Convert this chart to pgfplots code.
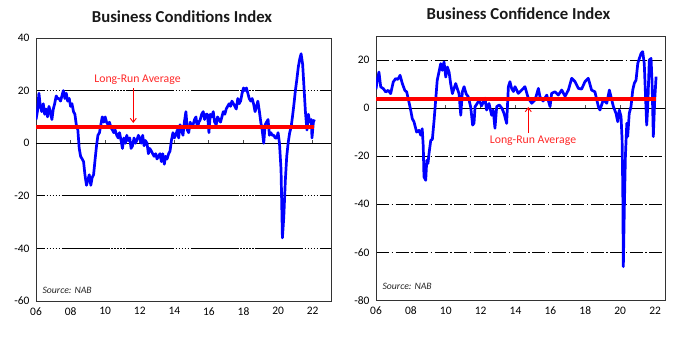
\documentclass[border=0pt]{standalone}
\usepackage{fontspec}
\setmainfont{Carlito}
\usepackage{pgfplots}
\pgfplotsset{compat=1.18}
\usetikzlibrary{arrows.meta}
\definecolor{lineblue}{RGB}{0,0,255}
\definecolor{avgred}{RGB}{255,0,0}
\definecolor{txtred}{RGB}{255,40,40}
\begin{document}
\begin{tikzpicture}
\path[use as bounding box] (0bp,0bp) rectangle (684bp,338bp);
\pgfplotsset{
  mystyle/.style={
    scale only axis, anchor=south west,
    axis line style={black!80, line width=0.9bp},
    tick label style={font=\fontsize{11.5}{13}\selectfont, text=black},
    /pgf/number format/assume math mode=true,
    major tick length=0pt,
    xtick={2006,2008,...,2022},
    xticklabels={06,08,10,12,14,16,18,20,22},
    xticklabel style={yshift=-3bp},
    yticklabel style={xshift=-3bp},
    ymajorgrids,
  }
}
% ---------------- Business Conditions ----------------
\begin{axis}[mystyle, at={(36bp,37bp)}, width=295bp, height=263bp,
  xmin=2006, xmax=2023.06, ymin=-60, ymax=40, ytick={-60,-40,...,40},
  grid style={black, line width=0.6bp, dash pattern=on 48bp off 1.5bp on 1.5bp off 1.5bp on 1.5bp off 1.5bp on 1.5bp off 1.5bp on 1.5bp off 1.5bp on 1.5bp off 1.5bp, dash phase=39bp}]
\draw[black, line width=0.7bp] (axis cs:2006,0) -- (axis cs:2023.06,0);
\pgfplotsinvokeforeach{2008,2010,...,2022}{\draw[black!70, line width=0.9bp] (axis cs:#1,0) -- ++(0pt,3.5pt);}
\addplot[lineblue, line width=2.7bp, line join=round] coordinates {
(2006.00,9) (2006.08,12) (2006.17,19) (2006.25,14) (2006.33,12) (2006.42,15) (2006.50,11) (2006.58,13) (2006.67,10) (2006.75,14) (2006.83,12) (2006.92,9)
(2007.00,13) (2007.08,15) (2007.17,18) (2007.25,17) (2007.33,17) (2007.42,16) (2007.50,18) (2007.58,20) (2007.67,17) (2007.75,19) (2007.83,16) (2007.92,17)
(2008.00,14) (2008.08,15) (2008.17,12) (2008.25,11) (2008.33,7) (2008.42,5) (2008.50,-2) (2008.58,-5) (2008.67,-6) (2008.75,-7) (2008.83,-12) (2008.92,-16)
(2009.00,-14) (2009.08,-12) (2009.17,-16) (2009.25,-13) (2009.33,-12) (2009.42,-6) (2009.50,-1) (2009.58,3) (2009.67,4) (2009.75,7) (2009.83,10) (2009.92,8)
(2010.00,10) (2010.08,8) (2010.17,7) (2010.25,8) (2010.33,6) (2010.42,5) (2010.50,4) (2010.58,5) (2010.67,3) (2010.75,2) (2010.83,4) (2010.92,1)
(2011.00,-2) (2011.08,2) (2011.17,0) (2011.25,3) (2011.33,1) (2011.42,2) (2011.50,-2) (2011.58,-1) (2011.67,2) (2011.75,0) (2011.83,1) (2011.92,3)
(2012.00,2) (2012.08,0) (2012.17,3) (2012.25,-1) (2012.33,1) (2012.42,0) (2012.50,-4) (2012.58,-2) (2012.67,-3) (2012.75,-4) (2012.83,-5) (2012.92,-4)
(2013.00,-6) (2013.08,-5) (2013.17,-4) (2013.25,-7) (2013.33,-4) (2013.42,-8) (2013.50,-5) (2013.58,-6) (2013.67,-4) (2013.75,-3) (2013.83,1) (2013.92,4)
(2014.00,2) (2014.08,3) (2014.17,5) (2014.25,2) (2014.33,7) (2014.42,5) (2014.50,3) (2014.58,8) (2014.67,12) (2014.75,5) (2014.83,4) (2014.92,8)
(2015.00,6) (2015.08,7) (2015.17,9) (2015.25,10) (2015.33,6) (2015.42,8) (2015.50,9) (2015.58,11) (2015.67,12) (2015.75,9) (2015.83,11) (2015.92,11)
(2016.00,4) (2016.08,11) (2016.17,10) (2016.25,12) (2016.33,8) (2016.42,7) (2016.50,10) (2016.58,9) (2016.67,8) (2016.75,10) (2016.83,12) (2016.92,11)
(2017.00,13) (2017.08,14) (2017.17,15) (2017.25,14) (2017.33,16) (2017.42,15) (2017.50,14) (2017.58,13) (2017.67,17) (2017.75,15) (2017.83,16) (2017.92,19)
(2018.00,21) (2018.08,20) (2018.17,21) (2018.25,19) (2018.33,17) (2018.42,16) (2018.50,17) (2018.58,15) (2018.67,12) (2018.75,14) (2018.83,16) (2018.92,12)
(2019.00,8) (2019.08,5) (2019.17,0) (2019.25,7) (2019.33,8) (2019.42,9) (2019.50,3) (2019.58,4) (2019.67,3) (2019.75,3) (2019.83,2) (2019.92,2)
(2020.00,4) (2020.08,0) (2020.17,-10) (2020.25,-36) (2020.33,-28) (2020.42,-14) (2020.50,-5) (2020.58,0) (2020.67,4) (2020.75,6) (2020.83,10) (2020.92,15)
(2021.00,20) (2021.08,24) (2021.17,29) (2021.25,32) (2021.33,34) (2021.42,30) (2021.50,21) (2021.58,12) (2021.67,5) (2021.75,11) (2021.83,8) (2021.92,9)
(2021.96,2) (2022.04,8) (2022.10,9)
};
\addplot[avgred, line width=4.2bp] coordinates {(2006,6.3) (2022.1,6.3)};
\end{axis}
% ---------------- Business Confidence ----------------
\begin{axis}[mystyle, at={(376bp,37.7bp)}, width=289bp, height=264bp,
  xmin=2006, xmax=2022.57, ymin=-80, ymax=30, ytick={-80,-60,-40,-20,20},
  extra y ticks={0}, extra y tick style={grid=none},
  grid style={black, line width=0.6bp, dash pattern=on 13bp off 2.5bp on 1.5bp off 2.5bp}]
\draw[black, line width=0.7bp] (axis cs:2006,0) -- (axis cs:2022.57,0);
\pgfplotsinvokeforeach{2008,2010,...,2022}{\draw[black!70, line width=0.9bp] (axis cs:#1,0) -- ++(0pt,3.5pt);}
\addplot[lineblue, line width=2.7bp, line join=round] coordinates {
(2006.00,8) (2006.07,11.7) (2006.17,15.1) (2006.27,8.9) (2006.42,8.2) (2006.56,6.8) (2006.70,7.5) (2006.84,6.1) (2006.99,11) (2007.13,12.4) (2007.25,12) (2007.38,13.75)
(2007.51,10.3) (2007.65,7.5) (2007.76,6.8) (2007.89,2.6) (2007.99,-0.8) (2008.08,-4.3) (2008.18,-5.7) (2008.33,-9.9) (2008.47,-9.2) (2008.56,-11.2) (2008.65,-8.5)
(2008.71,-16) (2008.75,-28.6) (2008.85,-30) (2008.91,-21.7) (2008.98,-23) (2009.04,-18.8) (2009.14,-13.3) (2009.23,-13) (2009.33,-5) (2009.42,3.3) (2009.51,11.7)
(2009.61,15.1) (2009.71,18.6) (2009.80,15.8) (2009.90,19.3) (2010.00,13) (2010.09,17.2) (2010.19,15.1) (2010.28,10.3) (2010.38,6.1) (2010.47,8.2) (2010.57,10.3)
(2010.66,8.2) (2010.76,6.1) (2010.86,-2.9) (2010.95,6.8) (2011.05,9) (2011.17,6) (2011.29,4.8) (2011.43,0.5) (2011.54,-7) (2011.62,-6.2) (2011.68,0.7) (2011.80,2)
(2011.92,3.5) (2012.05,1) (2012.15,2.5) (2012.25,4.2) (2012.34,-0.7) (2012.48,2) (2012.63,-2.9) (2012.72,-0.7) (2012.82,-8.3) (2012.92,0.7) (2013.07,1.4)
(2013.22,0) (2013.34,-2.1) (2013.49,-6.3) (2013.59,9) (2013.68,11.1) (2013.78,8.2) (2013.88,7) (2013.97,9) (2014.16,6.2) (2014.35,7.6) (2014.54,9) (2014.73,4.2)
(2014.93,2.1) (2015.12,3.5) (2015.31,8.3) (2015.40,4.8) (2015.58,3) (2015.79,5.5) (2015.98,0.7) (2016.07,6.2) (2016.26,6.9) (2016.45,5.5) (2016.65,7.6)
(2016.84,5) (2017.03,7.6) (2017.22,12.5) (2017.41,11.1) (2017.60,8.3) (2017.79,8) (2017.98,11.1) (2018.17,12.5) (2018.36,7.6) (2018.55,6.9) (2018.75,0.7)
(2018.84,-0.7) (2019.03,3.5) (2019.23,2.1) (2019.38,7.6) (2019.61,0.7) (2019.76,-2.1) (2019.86,-5.6) (2019.95,-0.7) (2020.05,-3.5) (2020.11,-13.2) (2020.15,-34)
(2020.18,-66) (2020.24,-41) (2020.30,-20) (2020.38,-6.2) (2020.43,-11.8) (2020.52,-2.1) (2020.62,0.7) (2020.72,7.6) (2020.81,10.4) (2020.91,11.8) (2021.01,18.7)
(2021.10,20.8) (2021.20,22.9) (2021.29,23.6) (2021.38,18.7) (2021.44,7.6) (2021.52,-7) (2021.58,0.7) (2021.67,20.1) (2021.77,20.8) (2021.83,10.4) (2021.90,-11.8)
(2021.98,3.5) (2022.06,13.2)
};
\addplot[avgred, line width=4.2bp] coordinates {(2006,3.75) (2022.05,3.75)};
\end{axis}
% ---------------- titles and annotations ----------------
\node[font=\bfseries\fontsize{16.8}{19}\selectfont, text=black!90] at (182bp,321bp) {Business Conditions Index};
\node[font=\bfseries\fontsize{16.8}{19}\selectfont, text=black!90] at (518.5bp,324bp) {Business Confidence Index};
\node[font=\fontsize{11.8}{14}\selectfont, text=txtred] at (137.5bp,258bp) {Long-Run Average};
\draw[avgred, line width=0.9bp, -{Straight Barb[length=4bp,width=6bp]}] (133.3bp,250bp) -- (133.3bp,215bp);
\node[font=\fontsize{11.8}{14}\selectfont, text=txtred] at (533bp,197bp) {Long-Run Average};
\draw[avgred, line width=0.9bp, -{Straight Barb[length=4bp,width=6bp]}] (528.3bp,205bp) -- (528.3bp,231bp);
\node[font=\itshape\fontsize{9.8}{11}\selectfont, anchor=west, text=black!85] at (39bp,48bp) {Source: NAB};
\node[font=\itshape\fontsize{9.8}{11}\selectfont, anchor=west, text=black!85] at (379bp,52bp) {Source: NAB};
\end{tikzpicture}
\end{document}
